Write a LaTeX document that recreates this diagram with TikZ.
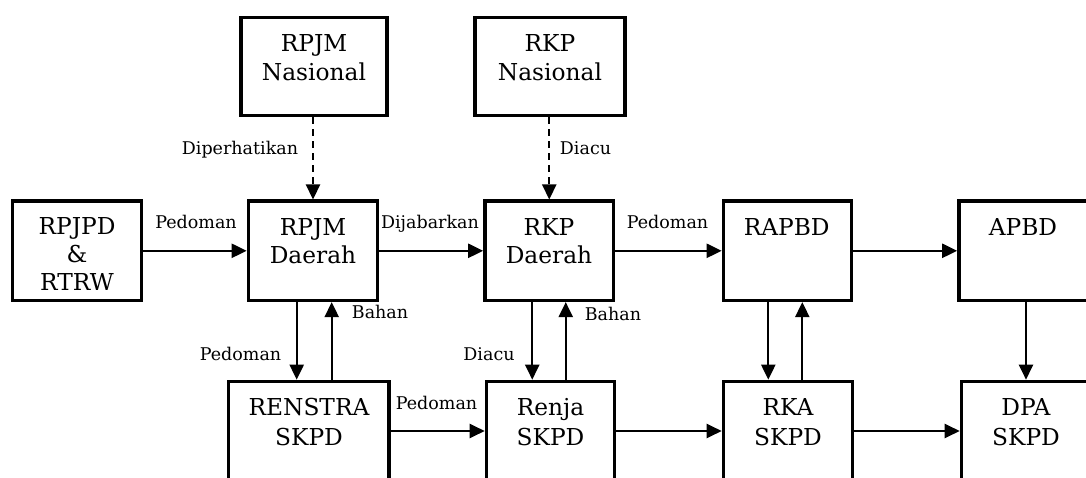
\documentclass[tikz,border=0pt]{standalone}
\usepackage{fontspec}
\setmainfont{DejaVu Serif}
\usetikzlibrary{arrows.meta,calc}

\tikzset{
  box/.style={draw, line width=3.6pt, minimum width=129pt, minimum height=99pt, inner sep=0pt},
  boxtxt/.style={anchor=base, align=center, inner sep=0pt, font=\fontsize{23.3}{28.3}\selectfont},
  lbl/.style={anchor=base, inner sep=0pt, font=\fontsize{17.5}{20}\selectfont},
  arr/.style={line width=2.2pt, -{Triangle[length=15pt,width=14pt]}},
  dasharr/.style={arr, dash pattern=on 7pt off 5pt}
}

\begin{document}
\begin{tikzpicture}[x=1pt, y=-1pt]
\useasboundingbox (0,0) rectangle (1086,478);
\fill[white] (0,0) rectangle (1086,478);
\clip (0,0) rectangle (1086,478);

% national level
\node[box, minimum width=146pt, minimum height=98pt] (rpjmn) at (314,66.5) {};
\node[box, minimum width=150pt, minimum height=98pt] (rkpn) at (550,66.5) {};

% regional planning row
\node[box] (rpjpd) at (77.1,250.8) {};
\node[box] (rpjmd) at (313,250.8) {};
\node[box, minimum width=128.5pt] (rkpd) at (549.25,250.8) {};
\node[box, minimum width=128pt] (rapbd) at (787.5,250.8) {};
\node[box] (apbd) at (1023.5,250.8) {};

% SKPD row (runs past the lower edge)
\node[box, minimum width=160.5pt] (renstra) at (308.75,431) {};
\node[box, minimum width=128pt] (renja) at (550.5,431) {};
\node[box] (rka) at (788,431) {};
\node[box] (dpa) at (1026,431) {};

% box texts (anchored on the baseline of the last line)
\node[boxtxt, font=\fontsize{23.3}{29.3}\selectfont] (trpjmn) at (314,81) {RPJM\\Nasional};
\node[boxtxt, font=\fontsize{23.3}{29.3}\selectfont] (trkpn) at (550,81) {RKP\\Nasional};
\node[boxtxt, font=\fontsize{23.3}{27.5}\selectfont] (trpjpd) at (77,290) {RPJPD\\\&\\RTRW};
\node[boxtxt] (trpjmd) at (313,263.3) {RPJM\\Daerah};
\node[boxtxt] (trkpd) at (549,263.3) {RKP\\Daerah};
\node[boxtxt] (trapbd) at (786.7,236) {RAPBD};
\node[boxtxt] (tapbd) at (1023,236) {APBD};
\node[boxtxt, font=\fontsize{23.3}{30}\selectfont] (trenstra) at (309,445) {RENSTRA\\SKPD};
\node[boxtxt, font=\fontsize{23.3}{30}\selectfont] (trenja) at (550.5,445) {Renja\\SKPD};
\node[boxtxt, font=\fontsize{23.3}{30}\selectfont] (trka) at (788,445) {RKA\\SKPD};
\node[boxtxt, font=\fontsize{23.3}{30}\selectfont] (tdpa) at (1026,445) {DPA\\SKPD};

% horizontal connectors
\draw[arr] (rpjpd.east) -- (rpjmd.west);
\draw[arr] (rpjmd.east) -- (rkpd.west);
\draw[arr] (rkpd.east) -- (rapbd.west);
\draw[arr] (rapbd.east) -- (apbd.west);
\draw[arr] (renstra.east) -- (renja.west);
\draw[arr] (renja.east) -- (rka.west);
\draw[arr] (rka.east) -- (dpa.west);

% dashed connectors from the national level
\draw[dasharr] (rpjmn.south -| rpjmd.north) -- (rpjmd.north);
\draw[dasharr] (rkpn.south -| rkpd.north) -- (rkpd.north);

% vertical connector pairs
\coordinate (d1) at ([xshift=-16.3pt]rpjmd.south);
\coordinate (u1) at ([xshift=18.7pt]rpjmd.south);
\coordinate (d2) at ([xshift=-17pt]rkpd.south);
\coordinate (u2) at ([xshift=16.5pt]rkpd.south);
\coordinate (d3) at ([xshift=-19.2pt]rapbd.south);
\coordinate (u3) at ([xshift=14.8pt]rapbd.south);
\draw[arr] (d1) -- (d1 |- renstra.north);
\draw[arr] (u1 |- renstra.north) -- (u1);
\draw[arr] (d2) -- (d2 |- renja.north);
\draw[arr] (u2 |- renja.north) -- (u2);
\draw[arr] (d3) -- (d3 |- rka.north);
\draw[arr] (u3 |- rka.north) -- (u3);
\draw[arr] (apbd.south -| dpa.north) -- (dpa.north);

% connector labels
\node[lbl] (l1) at (196,229) {Pedoman};
\node[lbl] (l2) at (430,229) {Dijabarkan};
\node[lbl] (l3) at (667.5,229) {Pedoman};
\node[lbl] (l4) at (240,155) {Diperhatikan};
\node[lbl] (l5) at (585.5,155) {Diacu};
\node[lbl] (l6) at (240.5,360) {Pedoman};
\node[lbl, anchor=base west] (l7) at (351.7,318.3) {Bahan};
\node[lbl] (l8) at (489,360) {Diacu};
\node[lbl] (l9) at (613,320.7) {Bahan};
\node[lbl] (l10) at (436.5,409.3) {Pedoman};
\end{tikzpicture}
\end{document}
